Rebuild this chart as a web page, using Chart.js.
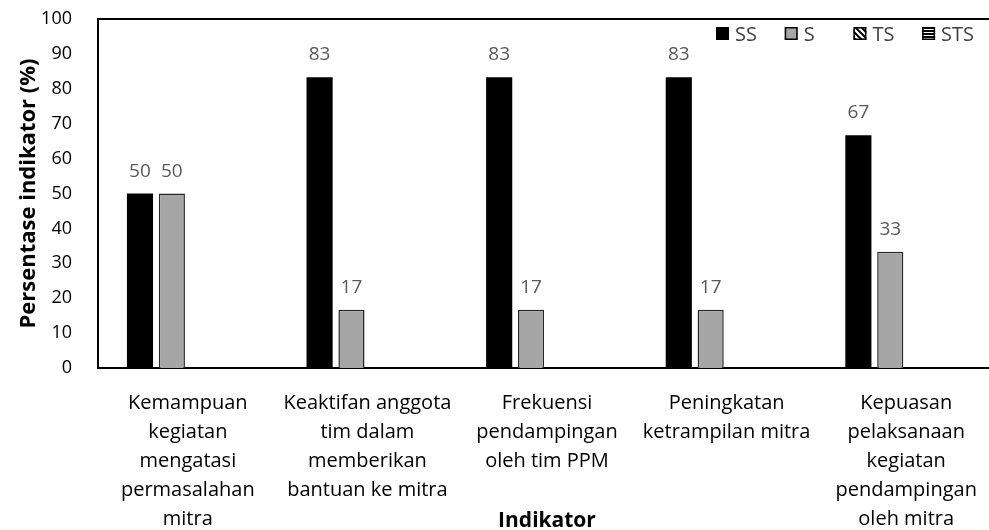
<!DOCTYPE html>
<html>
<head>
<meta charset="utf-8">
<script src="https://cdn.jsdelivr.net/npm/chart.js@4.4.1/dist/chart.umd.min.js"></script>
<style>
  html, body { margin: 0; padding: 0; background: #fff; overflow: hidden; }
  #wrap { width: 996px; height: 530px; }
</style>
</head>
<body>
<div id="wrap"><canvas id="chart" width="996" height="530"></canvas></div>
<script>
/* ───────── DATA ───────── */
const categories = [
  ["Kemampuan", "kegiatan", "mengatasi", "permasalahan", "mitra"],
  ["Keaktifan anggota", "tim dalam", "memberikan", "bantuan ke mitra"],
  ["Frekuensi", "pendampingan", "oleh tim PPM"],
  ["Peningkatan", "ketrampilan mitra"],
  ["Kepuasan", "pelaksanaan", "kegiatan", "pendampingan", "oleh mitra"]
];
const seriesNames = ["SS", "S", "TS", "STS"];
const ssValues  = [50, 83.3, 83.3, 83.3, 66.7];
const sValues   = [50, 16.7, 16.7, 16.7, 33.3];
const tsValues  = [0, 0, 0, 0, 0];
const stsValues = [0, 0, 0, 0, 0];
const yMin = 0, yMax = 100, yStep = 10;

const FONT = "'Open Sans', 'DejaVu Sans', sans-serif";

/* ───────── PATTERNS ───────── */
function makePattern(kind) {
  const c = document.createElement("canvas");
  c.width = 6; c.height = 6;
  const g = c.getContext("2d");
  g.fillStyle = "#fff";
  g.fillRect(0, 0, 6, 6);
  g.strokeStyle = "#000";
  g.lineWidth = 2;
  g.beginPath();
  if (kind === "diag") {
    g.moveTo(-1, -1); g.lineTo(7, 7);
    g.moveTo(-4, 2); g.lineTo(4, 10);
    g.moveTo(2, -4); g.lineTo(10, 4);
  } else {
    g.moveTo(0, 1); g.lineTo(6, 1);
    g.moveTo(0, 4); g.lineTo(6, 4);
  }
  g.stroke();
  return g.createPattern(c, "repeat");
}
const tsPattern = makePattern("diag");
const stsPattern = makePattern("horiz");

/* ───────── PLUGINS ───────── */
const frameAndTitles = {
  id: "frameAndTitles",
  afterDraw(chart) {
    const { ctx, chartArea: a } = chart;
    ctx.save();
    // top border
    ctx.strokeStyle = "#000";
    ctx.lineWidth = 2;
    ctx.beginPath();
    ctx.moveTo(a.left - 1, a.top);
    ctx.lineTo(a.right, a.top);
    ctx.stroke();

    // x axis title
    ctx.fillStyle = "#000";
    ctx.font = "bold 21px " + FONT;
    ctx.textAlign = "center";
    ctx.textBaseline = "alphabetic";
    ctx.fillText("Indikator", 547, 527);

    // legend
    const fills = ["#000", "#a6a6a6", tsPattern, stsPattern];
    ctx.font = "20px " + FONT;
    const box = 13, gapBox = 6, slot = 68.7;
    const cy = 34;
    ctx.textAlign = "left";
    ctx.textBaseline = "middle";
    seriesNames.forEach((n, i) => {
      const x = 716 + i * slot;
      ctx.fillStyle = fills[i];
      ctx.fillRect(x, cy - 7, box, box);
      if (i > 0) {
        ctx.strokeStyle = "#000";
        ctx.lineWidth = 1.5;
        ctx.strokeRect(x + 0.75, cy - 6.25, box - 1.5, box - 1.5);
      }
      ctx.fillStyle = "#404040";
      ctx.fillText(n, x + box + gapBox, cy + 1);
    });
    ctx.restore();
  }
};

const valueLabels = {
  id: "valueLabels",
  afterDatasetsDraw(chart) {
    const { ctx } = chart;
    ctx.save();
    ctx.font = "19px " + FONT;
    ctx.fillStyle = "#595959";
    ctx.textAlign = "center";
    ctx.textBaseline = "alphabetic";
    chart.data.datasets.forEach((ds, di) => {
      chart.getDatasetMeta(di).data.forEach((bar, i) => {
        const v = ds.data[i];
        if (!v) return;
        ctx.fillText(Math.round(v), bar.x, bar.y - 17);
      });
    });
    ctx.restore();
  }
};

/* ───────── CHART ───────── */
new Chart(document.getElementById("chart").getContext("2d"), {
  type: "bar",
  data: {
    labels: categories,
    datasets: [
      { label: seriesNames[0], data: ssValues, backgroundColor: "#000", borderWidth: 0 },
      { label: seriesNames[1], data: sValues, backgroundColor: "#a6a6a6", borderColor: "#262626", borderWidth: 1.5 },
      { label: seriesNames[2], data: tsValues, backgroundColor: tsPattern, borderWidth: 0 },
      { label: seriesNames[3], data: stsValues, backgroundColor: stsPattern, borderWidth: 0 }
    ]
  },
  options: {
    responsive: false,
    animation: false,
    datasets: { bar: { categoryPercentage: 0.71, barPercentage: 0.82 } },
    layout: { padding: { top: 19, left: 10, right: 0, bottom: 0 } },
    plugins: {
      legend: { display: false },
      tooltip: { enabled: false }
    },
    scales: {
      x: {
        grid: { display: false },
        border: { display: true, color: "#000", width: 2 },
        ticks: {
          color: "#000",
          font: { family: FONT, size: 20, lineHeight: 1.45 },
          padding: 13,
          maxRotation: 0,
          autoSkip: false
        },
        afterFit(scale) { scale.height = 162; }
      },
      y: {
        min: yMin,
        max: yMax,
        grid: { display: false },
        border: { display: true, color: "#000", width: 2 },
        ticks: {
          stepSize: yStep,
          color: "#000",
          font: { family: FONT, size: 18 },
          padding: 18
        },
        title: {
          display: true,
          text: "Persentase indikator (%)",
          color: "#000",
          font: { family: FONT, size: 22, weight: "bold" },
          padding: { top: 6, bottom: 0 }
        },
        afterFit(scale) {
          scale.width = 88;
          scale.paddingTop = 0;
          scale.paddingBottom = 0;
        }
      }
    }
  },
  plugins: [frameAndTitles, valueLabels]
});
</script>
</body>
</html>
